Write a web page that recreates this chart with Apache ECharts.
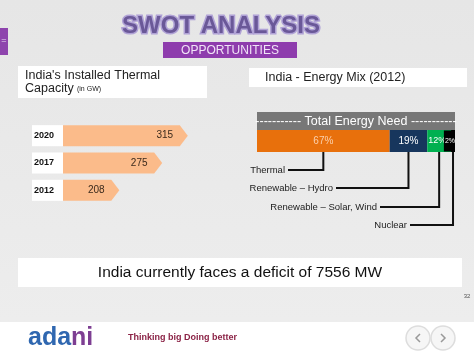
<!DOCTYPE html>
<html><head><meta charset="utf-8">
<script src="https://cdn.jsdelivr.net/npm/echarts@6/dist/echarts.min.js"></script>
<style>
html,body{margin:0;padding:0;}
#c{width:474px;height:355px;background:linear-gradient(to bottom,#e6e6e6 0px,#ededed 322px,#ffffff 322px,#ffffff 355px);}
</style>
</head><body><div id="c"></div>
<script>
// ---- data ----
const capacityYears = ['2012', '2017', '2020'];
const capacityValues = [208, 275, 315];           // GW
const mixCategories = ['Thermal', 'Renewable – Hydro', 'Renewable – Solar, Wind', 'Nuclear'];
const mixValues = [67, 19, 12, 2];                // %
const mixColors = ['#e8700c', '#17365d', '#00b050', '#000000'];
const mixLabelColors = ['#fbd0ad', '#ffffff', '#ffffff', '#ffffff'];

const F = 'Liberation Sans, Arial, sans-serif';
const chart = echarts.init(document.getElementById('c'), null, {renderer: 'canvas'});
const capMin = 120;

function mixLabel(i) {
  if (i === 3) return {show: true, position: 'insideRight', distance: 0, formatter: '{c}%', color: '#ffffff',
    fontFamily: F, fontSize: 7, backgroundColor: '#000000', padding: [7, 0, 7, 1]};
  if (i === 2) return {show: true, position: 'insideLeft', distance: 1, formatter: '{c}%', color: '#ffffff',
    fontFamily: F, fontSize: 9};
  return {show: true, position: 'inside', formatter: '{c}%', color: mixLabelColors[i], fontFamily: F, fontSize: 10};
}

const option = {
  animation: false,
  grid: [
    {left: 63, top: 122, width: 128, height: 82},
    {left: 257, top: 130, width: 198, height: 22}
  ],
  xAxis: [
    {type: 'value', gridIndex: 0, min: capMin, max: 320, show: false},
    {type: 'value', gridIndex: 1, min: 0, max: 100, show: false}
  ],
  yAxis: [
    {type: 'category', gridIndex: 0, data: capacityYears, show: false},
    {type: 'category', gridIndex: 1, data: ['Total Energy Need'], show: false}
  ],
  series: [
    {
      type: 'custom', xAxisIndex: 0, yAxisIndex: 0,
      data: capacityValues.map((v, i) => [v, i]),
      renderItem(params, api) {
        const v = api.value(0), idx = api.value(1);
        const end = api.coord([v, idx]);
        const start = api.coord([capMin, idx]);
        const band = api.size([0, 1])[1];
        const h = band * 0.77;
        const y0 = end[1] - h / 2, y1 = end[1] + h / 2;
        const tip = 8;
        return {type: 'group', children: [
          {type: 'rect', shape: {x: start[0] - 31, y: y0, width: 31, height: h}, style: {fill: '#ffffff'}},
          {type: 'text', style: {text: capacityYears[idx], x: start[0] - 29, y: end[1], verticalAlign: 'middle', font: 'bold 9px ' + F, fill: '#111'}},
          {type: 'polygon', shape: {points: [[start[0], y0], [end[0] - tip, y0], [end[0], end[1]], [end[0] - tip, y1], [start[0], y1]]}, style: {fill: '#fbbb8a'}},
          {type: 'text', style: {text: String(v), x: end[0] - 23, y: end[1], align: 'center', verticalAlign: 'middle', font: '10px ' + F, fill: '#3b2a1c'}}
        ]};
      }
    }
  ].concat(mixValues.map((v, i) => ({
    type: 'bar', name: mixCategories[i], xAxisIndex: 1, yAxisIndex: 1, stack: 'mix',
    barWidth: '100%', data: [v], itemStyle: {color: mixColors[i]},
    label: mixLabel(i)
  })))
};
chart.setOption(option);

// static slide decoration
const statics = [
  {type: 'rect', shape: {x: 0, y: 28, width: 8, height: 27}, style: {fill: '#8e44ad'}},
  {type: 'text', style: {text: '=', x: 4, y: 41, align: 'center', verticalAlign: 'middle', font: '9px ' + F, fill: '#e8d8f0'}},
  {type: 'text', z: 10, style: {text: 'SWOT ANALYSIS', x: 221, y: 26, align: 'center', verticalAlign: 'middle',
    font: 'bold 24px ' + F, fill: '#6a5898', stroke: '#b0a2d6', lineWidth: 3, strokeFirst: true}},
  {type: 'rect', shape: {x: 163, y: 42, width: 134, height: 16}, style: {fill: '#8e3cad'}},
  {type: 'text', style: {text: 'OPPORTUNITIES', x: 230, y: 50.5, align: 'center', verticalAlign: 'middle', font: '12px ' + F, fill: '#f1e4f7'}},
  {type: 'rect', shape: {x: 18, y: 66, width: 189, height: 32}, style: {fill: '#ffffff'}},
  {type: 'text', style: {text: "India's Installed Thermal", x: 25, y: 76, verticalAlign: 'middle', font: '12.5px ' + F, fill: '#222'}},
  {type: 'text', style: {text: '{a|Capacity} {b|(in GW)}', x: 25, y: 89, verticalAlign: 'middle',
    rich: {a: {font: '12.5px ' + F, fill: '#222'}, b: {font: '7px ' + F, fill: '#222'}}}},
  {type: 'rect', shape: {x: 249, y: 68, width: 218, height: 19}, style: {fill: '#ffffff'}},
  {type: 'text', style: {text: 'India - Energy Mix (2012)', x: 265, y: 78, verticalAlign: 'middle', font: '12.5px ' + F, fill: '#222'}},
  {type: 'rect', shape: {x: 257, y: 112, width: 198, height: 18}, style: {fill: '#777777'}},
  {type: 'text', style: {text: '----------- Total Energy Need -----------', x: 356, y: 121.5, align: 'center', verticalAlign: 'middle', font: '12.5px ' + F, fill: '#ffffff'}},
  {type: 'rect', shape: {x: 18, y: 258, width: 444, height: 29}, style: {fill: '#ffffff'}},
  {type: 'text', style: {text: 'India currently faces a deficit of 7556 MW', x: 240, y: 273, align: 'center', verticalAlign: 'middle', font: '15.5px ' + F, fill: '#111'}},
  {type: 'text', style: {text: '32', x: 467, y: 296, align: 'center', verticalAlign: 'middle', font: '6px ' + F, fill: '#555'}},
  {type: 'text', style: {text: '{a|ada}{b|ni}', x: 28, y: 338, verticalAlign: 'middle',
    rich: {a: {font: 'bold 25px ' + F, fill: '#2f67b0'}, b: {font: 'bold 25px ' + F, fill: '#7d3e92'}}}},
  {type: 'text', style: {text: 'Thinking big Doing better', x: 128, y: 338, verticalAlign: 'middle', font: 'bold 9px ' + F, fill: '#8b2346'}},
  {type: 'circle', shape: {cx: 418, cy: 338, r: 12}, style: {fill: '#f6f6f6', stroke: '#dddddd', lineWidth: 1.5}},
  {type: 'circle', shape: {cx: 443, cy: 338, r: 12}, style: {fill: '#f6f6f6', stroke: '#dddddd', lineWidth: 1.5}},
  {type: 'polyline', shape: {points: [[420, 334], [416, 338], [420, 342]]}, style: {stroke: '#999', lineWidth: 1.5, fill: null}},
  {type: 'polyline', shape: {points: [[441, 334], [445, 338], [441, 342]]}, style: {stroke: '#999', lineWidth: 1.5, fill: null}}
];

// leader lines from each energy segment (positions through the axis scale)
const labelY = [170, 188, 207, 225];
const labelRight = [285, 333, 377, 407];
const leaders = [];
let cum = 0;
mixValues.forEach((v, i) => {
  const mid = cum + v / 2; cum += v;
  const p = chart.convertToPixel({gridIndex: 1}, [mid, 0]);
  const bottom = p[1] + 11;
  leaders.push({type: 'polyline', shape: {points: [[p[0], bottom], [p[0], labelY[i]], [labelRight[i] + 3, labelY[i]]]},
    style: {stroke: '#111', lineWidth: 2, fill: null}});
  leaders.push({type: 'text', style: {text: mixCategories[i], x: labelRight[i], y: labelY[i], align: 'right', verticalAlign: 'middle',
    font: '9.5px ' + F, fill: '#222'}});
});
chart.setOption({graphic: statics.concat(leaders)});
</script>
</body></html>
